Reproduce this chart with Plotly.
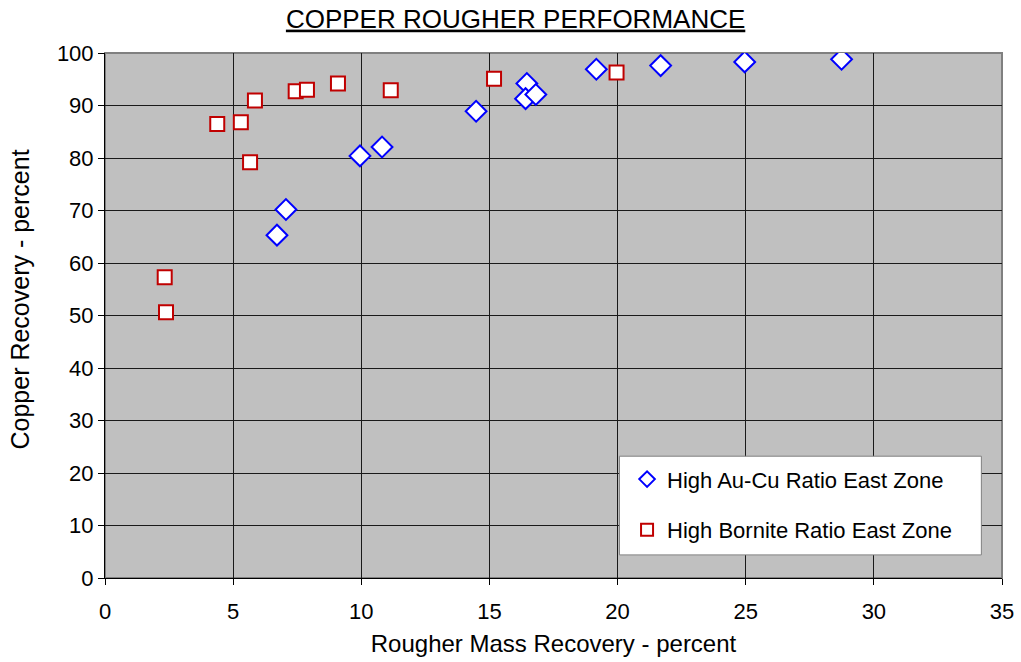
import plotly.graph_objects as go

# High Au-Cu ratio, East Zone
au_cu_mass = [6.71, 7.06, 9.95, 10.81, 14.48, 16.46, 16.41, 16.81, 19.17, 21.68, 24.96, 28.74]
au_cu_recovery = [65.3, 70.2, 80.4, 82.1, 88.9, 94.2, 91.3, 92.1, 96.9, 97.6, 98.3, 98.8]

# High bornite ratio, East Zone
bornite_mass = [2.33, 2.38, 4.38, 5.30, 5.66, 5.85, 7.44, 7.88, 9.09, 11.15, 15.18, 19.96]
bornite_recovery = [57.3, 50.6, 86.5, 86.8, 79.2, 90.95, 92.7, 93.0, 94.2, 92.9, 95.1, 96.3]

x_ticks = [0, 5, 10, 15, 20, 25, 30, 35]
y_ticks = [0, 10, 20, 30, 40, 50, 60, 70, 80, 90, 100]

FONT = "Liberation Sans, Arial, sans-serif"

fig = go.Figure()
fig.add_trace(go.Scatter(
    x=au_cu_mass, y=au_cu_recovery, mode="markers",
    name="High Au-Cu Ratio East Zone", legendgroup="a",
    marker=dict(symbol="diamond", size=16, color="white",
                line=dict(color="#0000FF", width=2)),
))
fig.add_trace(go.Scatter(
    x=bornite_mass, y=bornite_recovery, mode="markers",
    name="High Bornite Ratio East Zone", legendgroup="b",
    marker=dict(symbol="square", size=14, color="white",
                line=dict(color="#C00000", width=2)),
))

# plot frame
fig.add_shape(type="rect", xref="paper", yref="paper", x0=0, y0=0, x1=1, y1=1,
              line=dict(color="#808080", width=2), layer="below")
# legend box
fig.add_shape(type="rect", xref="paper", yref="paper",
              x0=0.5735, y0=0.044, x1=0.977, y1=0.232,
              line=dict(color="#808080", width=1), fillcolor="white", layer="above")

# vertical axis title
fig.add_annotation(text="Copper Recovery - percent", xref="paper", yref="paper",
                   x=-0.095, y=0.53, xanchor="center", yanchor="middle",
                   textangle=-90, showarrow=False, font=dict(size=25, family=FONT))

fig.update_layout(
    width=1021, height=662,
    margin=dict(l=105, r=19, t=53, b=84),
    paper_bgcolor="white", plot_bgcolor="#C0C0C0",
    font=dict(family=FONT, size=22, color="black"),
    title=dict(text="<u>COPPER ROUGHER PERFORMANCE</u>", x=0.505, xanchor="center",
               y=0.972, yanchor="middle", font=dict(size=26, family=FONT)),
    legend=dict(x=0.582, y=0.228, xanchor="left", yanchor="top",
                bgcolor="rgba(0,0,0,0)", borderwidth=0,
                tracegroupgap=19, itemsizing="constant",
                font=dict(size=22, family=FONT)),
    xaxis=dict(range=[0, 35], tickvals=x_ticks, showgrid=True, gridcolor="#1a1a1a",
               gridwidth=1, showline=True, linecolor="black", linewidth=1,
               ticks="outside", ticklen=6, tickcolor="black", zeroline=False,
               ticklabelstandoff=8, automargin=False,
               title=dict(text="Rougher Mass Recovery - percent", standoff=11,
                          font=dict(size=24, family=FONT))),
    yaxis=dict(range=[0, 100], tickvals=y_ticks, showgrid=True, gridcolor="#1a1a1a",
               gridwidth=1, showline=True, linecolor="black", linewidth=1,
               ticks="outside", ticklen=6, tickcolor="black", zeroline=False,
               automargin=False),
)

fig.write_html("out.html")
